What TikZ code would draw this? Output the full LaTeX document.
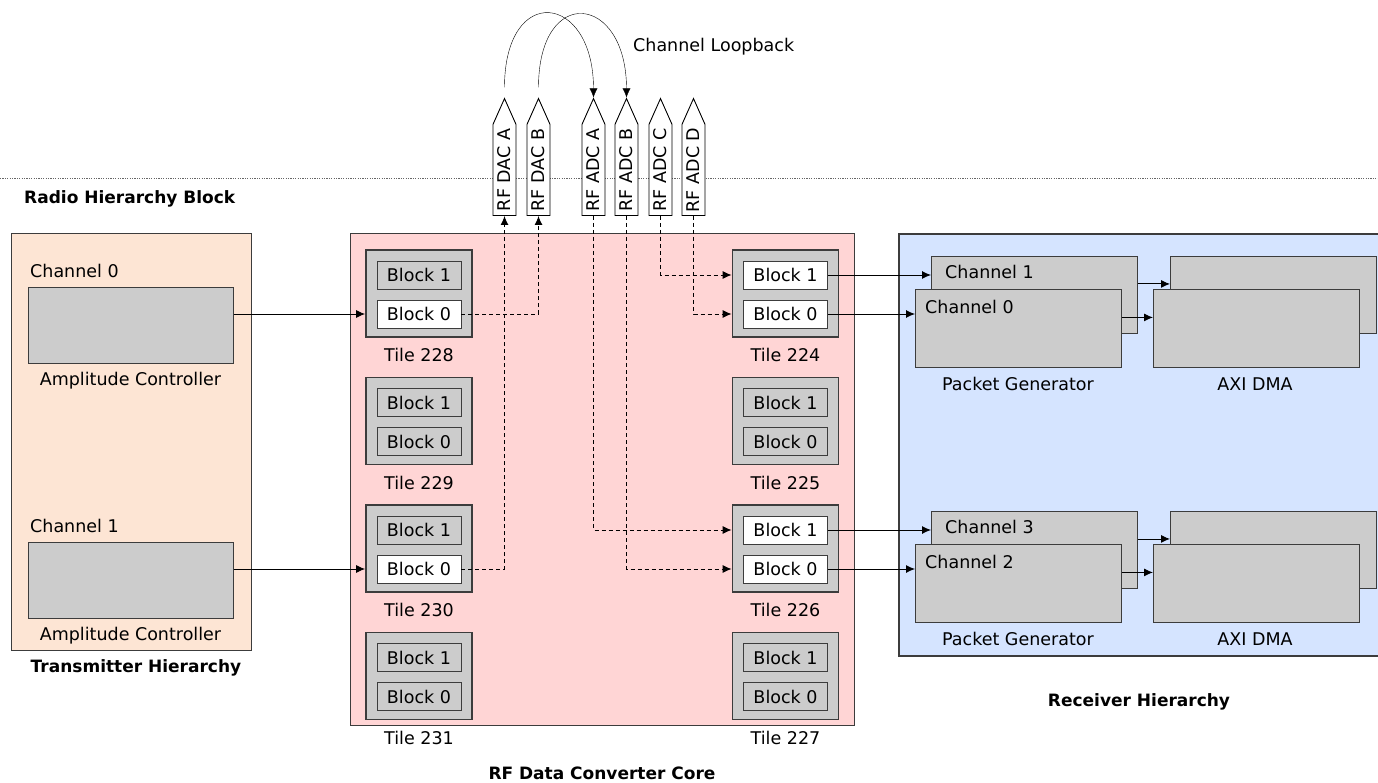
\documentclass[tikz,border=0pt]{standalone}
\usepackage{fontspec}
\setmainfont{DejaVu Sans}
\usetikzlibrary{shapes.symbols,arrows.meta}
\definecolor{txpeach}{RGB}{253,229,212}
\definecolor{corepink}{RGB}{255,213,213}
\definecolor{rxblue}{RGB}{213,228,255}
\definecolor{boxgray}{RGB}{204,204,204}
\definecolor{edgegray}{RGB}{60,60,60}
\tikzset{
  hier/.style={draw=edgegray, line width=1.2pt, anchor=north west, inner sep=0pt},
  hiertitle/.style={font=\fontsize{17}{19}\selectfont\bfseries},
  greybox/.style={draw=edgegray, fill=boxgray, line width=0.9pt, anchor=north west, inner sep=0pt, minimum width=206pt, minimum height=77pt},
  tilebox/.style={draw=edgegray, fill=boxgray, line width=1.8pt, minimum width=106pt, minimum height=87pt},
  blockbox/.style={draw=edgegray, line width=0.9pt, minimum width=84pt, minimum height=28pt, inner sep=0pt},
  pin/.style={draw=black, fill=white, line width=0.9pt, signal, signal to=east, signal pointer angle=48, rotate=90, anchor=west, minimum width=117pt, minimum height=23pt, inner sep=1pt},
  conn/.style={->, line width=0.9pt},
  dashconn/.style={->, dash pattern=on 4pt off 3pt, line width=0.9pt},
}
\begin{document}
\begin{tikzpicture}[>={Latex[length=9pt,width=8pt]}, x=1pt, y=-1pt, font=\fontsize{17.5}{20}\selectfont]
\useasboundingbox (0,0) rectangle (1378,783);
% radio hierarchy
\draw[black!60, dash pattern=on 1.2pt off 1.2pt] (0,178) -- (1378,178);
\node[hiertitle, anchor=west, inner sep=0pt] (radio) at (24,199) {Radio Hierarchy Block};

% transmitter hierarchy
\node[hier, fill=txpeach, minimum width=240pt, minimum height=417pt] (tx) at (11,233) {};
\node[hiertitle] (txlbl) at (136,668) {Transmitter Hierarchy};
\foreach \c/\y in {0/287, 1/542}{
  \node[greybox, minimum width=205pt, minimum height=76pt, label={[anchor=south west, inner sep=0pt, xshift=2pt, yshift=9pt]north west:Channel \c}] (amp\c) at (28,\y) {};
  \node (amp\c lbl) at (130.5,\y+94) {Amplitude Controller};
}

% data converter core
\node[hier, fill=corepink, minimum width=504pt, minimum height=492pt] (core) at (350,233) {};
\node[hiertitle] (corelbl) at (602,773) {RF Data Converter Core};
\foreach \n/\x/\y/\ca/\cb in {228/419/250/boxgray/white, 229/419/377.5/boxgray/boxgray,
    230/419/505/boxgray/white, 231/419/632.5/boxgray/boxgray,
    224/785.5/250/white/white, 225/785.5/377.5/boxgray/boxgray,
    226/785.5/505/white/white, 227/785.5/632.5/boxgray/boxgray}{
  \node[tilebox] (t\n) at (\x,\y+43.5) {};
  \node[blockbox, fill=\ca] (t\n b1) at (\x,\y+25) {Block 1};
  \node[blockbox, fill=\cb] (t\n b0) at (\x,\y+64) {Block 0};
  \node (t\n lbl) at (\x,\y+105) {Tile \n};
}

% receiver hierarchy
\node[hier, fill=rxblue, line width=2.2pt, minimum width=500pt, minimum height=422pt] (rx) at (898,233) {};
\node[hiertitle] (rxlbl) at (1139,702) {Receiver Hierarchy};
\foreach \g/\dy/\a/\b in {top/0/1/0, bot/255/3/2}{
  \node[greybox, label={[anchor=north west, inner sep=0pt, xshift=14pt, yshift=-9pt]north west:Channel \a}] (pg\a) at (931,256+\dy) {};
  \node[greybox, minimum height=78pt, label={[anchor=north west, inner sep=0pt, xshift=10pt, yshift=-11pt]north west:Channel \b}] (pg\b) at (915,289+\dy) {};
  \node[greybox] (dma\a) at (1170,256+\dy) {};
  \node[greybox, minimum height=78pt] (dma\b) at (1153,289+\dy) {};
  \node (pglbl\g) at (1018,384+\dy) {Packet Generator};
  \node (dmalbl\g) at (1255,384+\dy) {AXI DMA};
  \draw[conn] ([yshift=11pt]pg\a.east) -- ([yshift=11pt]dma\a.west);
  \draw[conn] ([yshift=11pt]pg\b.east) -- ([yshift=11pt]dma\b.west);
}

% rf pins
\foreach \nm/\x/\txt in {dacA/504.5/DAC A, dacB/538.5/DAC B, adcA/593.5/ADC A,
    adcB/626.5/ADC B, adcC/660.5/ADC C, adcD/693.5/ADC D}
  \node[pin] (\nm) at (\x,216) {RF \txt};
\draw[->] ([yshift=10pt]dacA.east) to[out=90, in=90, looseness=3] (adcA.east);
\draw[->] ([yshift=10pt]dacB.east) to[out=90, in=90, looseness=3] (adcB.east);
\node[anchor=west, inner sep=0pt] (loopback) at (633,47) {Channel Loopback};

% connections
\draw[conn] (amp0.east |- t228b0) -- (t228.west |- t228b0);
\draw[conn] (amp1.east |- t230b0) -- (t230.west |- t230b0);
\draw[dashconn] (t228b0.east) -| (dacB.west);
\draw[dashconn] (t230b0.east) -| (dacA.west);
\draw[dashconn] (adcA.west) |- (t226.west |- t226b1);
\draw[dashconn] (adcB.west) |- (t226.west |- t226b0);
\draw[dashconn] (adcC.west) |- (t224.west |- t224b1);
\draw[dashconn] (adcD.west) |- (t224.west |- t224b0);
\draw[conn] (t224b1.east) -- (pg1.west |- t224b1);
\draw[conn] (t224b0.east) -- (pg0.west |- t224b0);
\draw[conn] (t226b1.east) -- (pg3.west |- t226b1);
\draw[conn] (t226b0.east) -- (pg2.west |- t226b0);
\end{tikzpicture}
\end{document}
